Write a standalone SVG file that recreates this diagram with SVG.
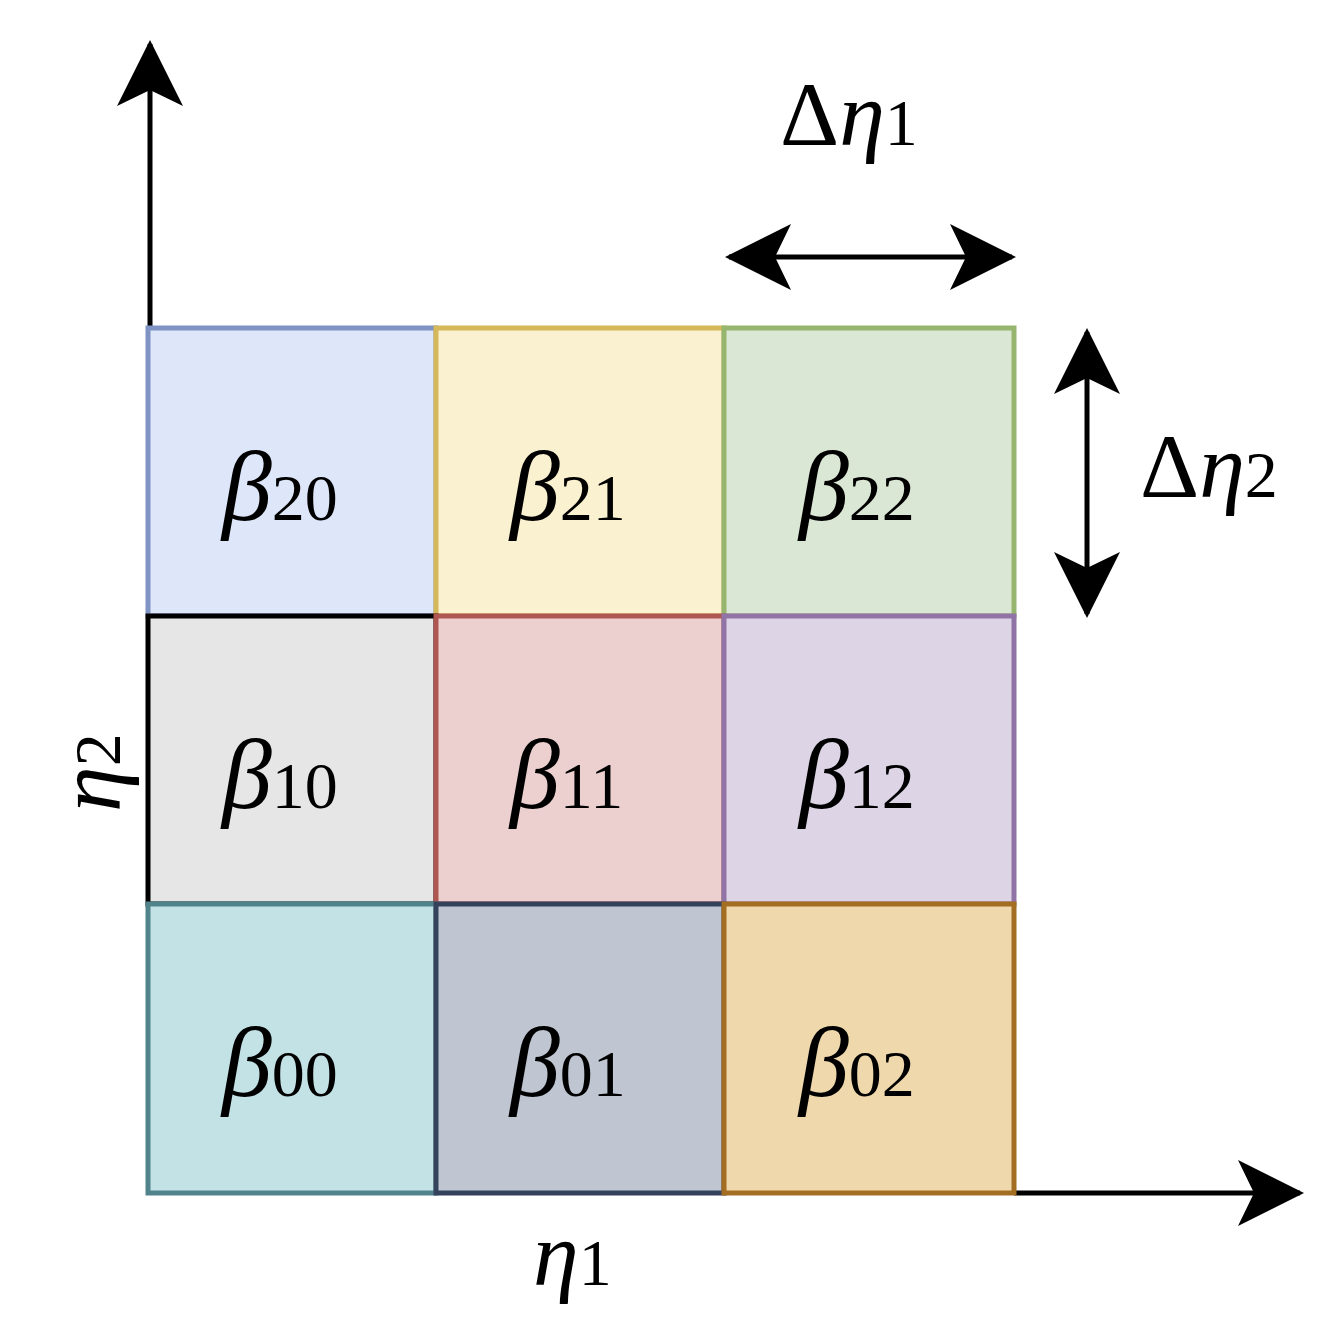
<svg xmlns="http://www.w3.org/2000/svg" width="1344" height="1336" viewBox="0 0 1344 1336">
<style>
.c{stroke-width:5}
.b{font-family:"Liberation Serif",serif;font-style:italic;font-size:100px}
.s{font-family:"Liberation Serif",serif;font-style:normal;font-size:66px}
.ax{stroke:#000;stroke-width:5;fill:none}
.l{font-family:"Liberation Serif",serif;font-size:92px}
</style>
<defs>
<marker id="ah" viewBox="0 0 66 66" refX="62" refY="33" markerWidth="66" markerHeight="66" markerUnits="userSpaceOnUse" orient="auto-start-reverse">
<path d="M0,0 L66,33 L0,66 L16,33 Z" fill="#000"/>
</marker>
</defs>
<g id="connectors">
<line class="ax" x1="150" y1="1193" x2="150" y2="44" marker-end="url(#ah)"/>
<line class="ax" x1="1014" y1="1193" x2="1300" y2="1193" marker-end="url(#ah)"/>
<line class="ax" x1="729" y1="257" x2="1012" y2="257" marker-start="url(#ah)" marker-end="url(#ah)"/>
<line class="ax" x1="1087" y1="332" x2="1087" y2="614" marker-start="url(#ah)" marker-end="url(#ah)"/>
</g>
<g id="b20"><rect class="c" x="148" y="328" width="288" height="288" fill="#dee6f9" stroke="#7f93c4"/><text x="222" y="520" class="b">β<tspan class="s">20</tspan></text></g>
<g id="b21"><rect class="c" x="436" y="328" width="288" height="288" fill="#f9f1cf" stroke="#d4b85a"/><text x="510" y="520" class="b">β<tspan class="s">21</tspan></text></g>
<g id="b22"><rect class="c" x="724" y="328" width="290" height="288" fill="#dbe7d5" stroke="#96b56f"/><text x="799" y="520" class="b">β<tspan class="s">22</tspan></text></g>
<g id="b10"><rect class="c" x="148" y="616" width="288" height="288" fill="#e6e6e6" stroke="#000"/><text x="222" y="808" class="b">β<tspan class="s">10</tspan></text></g>
<g id="b11"><rect class="c" x="436" y="616" width="288" height="288" fill="#ebd0cf" stroke="#b05650"/><text x="510" y="808" class="b">β<tspan class="s">11</tspan></text></g>
<g id="b12"><rect class="c" x="724" y="616" width="290" height="288" fill="#ddd4e6" stroke="#9173a5"/><text x="799" y="808" class="b">β<tspan class="s">12</tspan></text></g>
<g id="b00"><rect class="c" x="148" y="904" width="288" height="289" fill="#c3e2e6" stroke="#51848a"/><text x="222" y="1096" class="b">β<tspan class="s">00</tspan></text></g>
<g id="b01"><rect class="c" x="436" y="904" width="288" height="289" fill="#bfc6d1" stroke="#35425c"/><text x="510" y="1096" class="b">β<tspan class="s">01</tspan></text></g>
<g id="b02"><rect class="c" x="724" y="904" width="290" height="289" fill="#efd9ac" stroke="#a36d22"/><text x="799" y="1096" class="b">β<tspan class="s">02</tspan></text></g>
<g id="labels">
<text x="780" y="145" class="l">Δ<tspan font-style="italic">η</tspan><tspan class="s">1</tspan></text>
<text x="1140" y="497" class="l">Δ<tspan font-style="italic">η</tspan><tspan class="s">2</tspan></text>
<text x="533" y="1285" class="l"><tspan font-style="italic">η</tspan><tspan class="s">1</tspan></text>
<text transform="translate(120,812) rotate(-90)" class="l"><tspan font-style="italic">η</tspan><tspan class="s">2</tspan></text>
</g>
</svg>
